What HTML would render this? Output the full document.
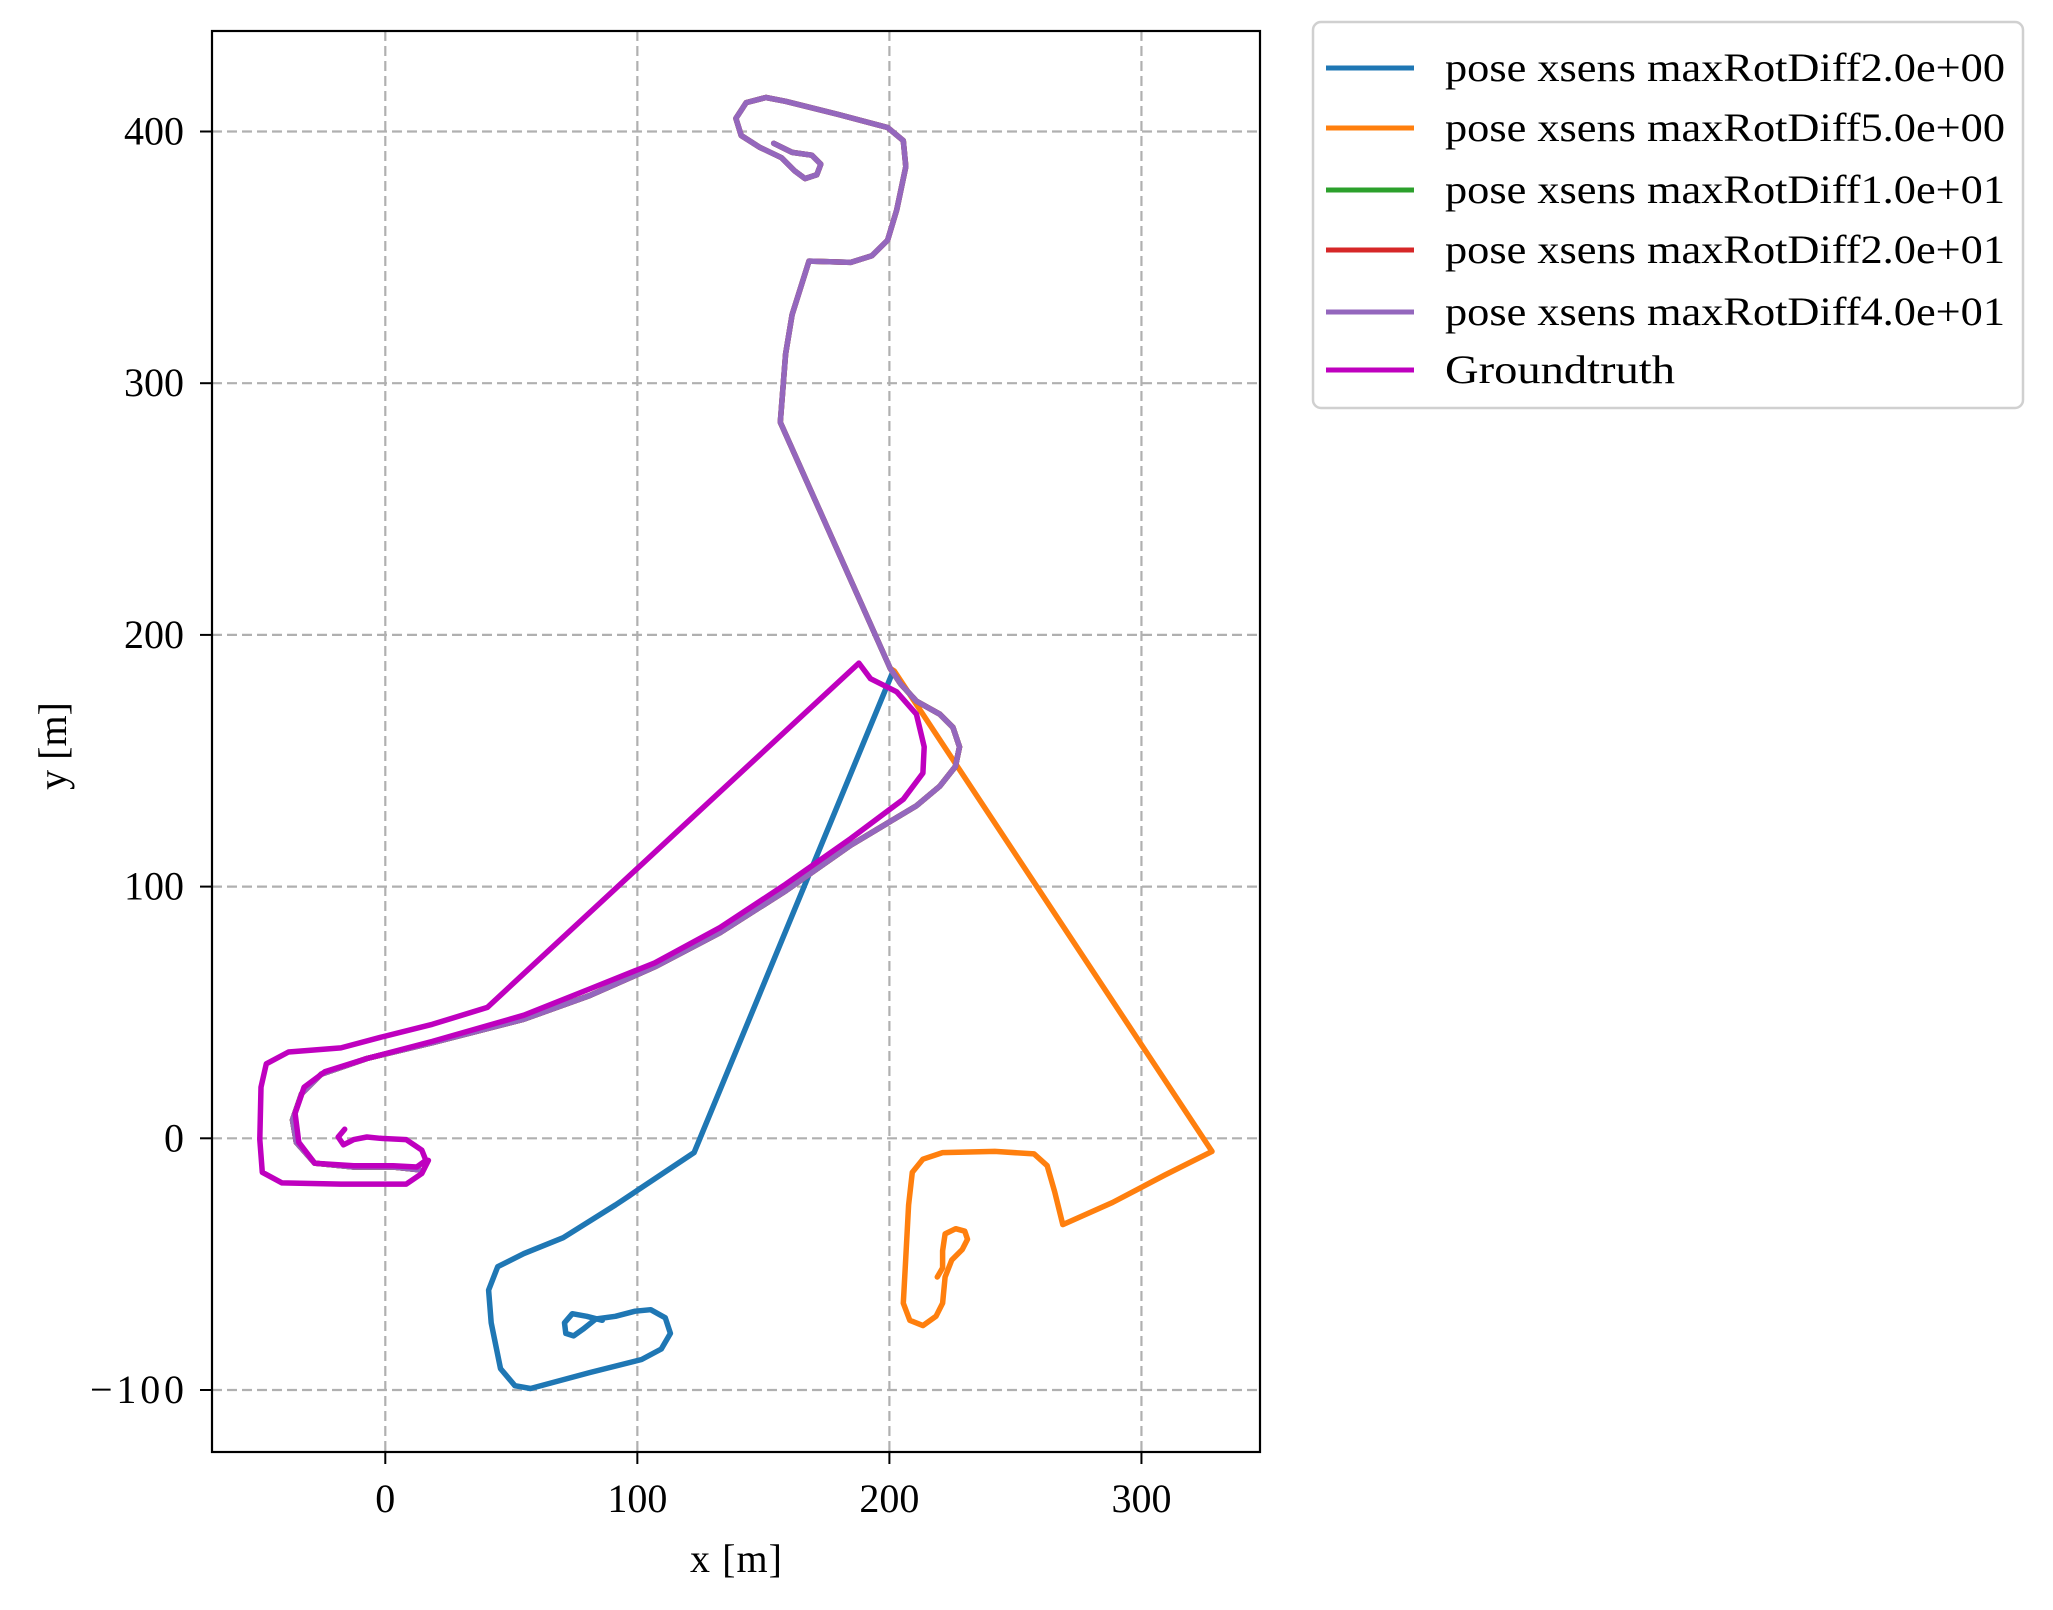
<!DOCTYPE html>
<html><head><meta charset="utf-8"><style>
html,body{margin:0;padding:0;background:#fff;}
svg{display:block;font-family:"Liberation Serif",serif;}
</style></head><body>
<svg id="chart" width="2053" height="1610" viewBox="0 0 2053 1610">
<rect width="2053" height="1610" fill="#fff"/>
<g id="grid"></g>
<g id="series"></g>
<rect x="212" y="31" width="1048" height="1421" fill="none" stroke="#000" stroke-width="2.2"/>
<g id="ticks"></g>
<text x="736" y="1572" font-size="40" text-anchor="middle" textLength="92">x [m]</text>
<text x="0" y="0" font-size="40" text-anchor="middle" transform="translate(66,746) rotate(-90)">y [m]</text>
<g id="legend"></g>
</svg>
<script>
const xTicks = [0, 100, 200, 300];
const yTicks = [-100, 0, 100, 200, 300, 400];
const yTickLabels = ["\u2212100", "0", "100", "200", "300", "400"];
const seriesNames = ["pose xsens maxRotDiff2.0e+00","pose xsens maxRotDiff5.0e+00","pose xsens maxRotDiff1.0e+01","pose xsens maxRotDiff2.0e+01","pose xsens maxRotDiff4.0e+01","Groundtruth"];
const seriesColors = ["#1f77b4","#ff7f0e","#2ca02c","#d62728","#9467bd","#bf00bf"];

const sharedX = [13.5,3.1,-12.5,-28,-35.3,-36.8,-33.2,-25.4,-7.3,18.7,55,81,106.9,132.8,158.8,184.7,210.7,220,226.2,227.8,225.2,220,210.7,204.5,200.3];
const sharedY = [-12.5,-11.4,-11.4,-9.9,-1.6,7.3,17.7,25.5,31.7,38,47.3,56.7,68.1,81.7,98.3,116.5,132.1,139.9,147.7,155.5,163.3,168.5,173.7,180.5,186.7];
const upperX = [156.7,158.8,161.4,168.1,184.7,193,199.3,202.9,206.5,205.5,199.3,179.6,158.8,151,143.2,139.1,141.2,148.4,157.2,162.4,166.5,171.2,172.8,169.2,161.4,154.1];
const upperY = [284.5,311.6,327.2,348.5,348,350.6,356.8,368.8,386,396.4,401.6,406.8,412,413.5,411.5,405.2,398.4,393.8,389.6,384.4,381.3,382.8,387,390.6,391.7,395.3];
const blueX = [201.3,122.5,91.3,70.6,55,44.6,41,42,45.7,51.4,57.6,81,101.7,109.5,113.1,111.1,105.3,99.1,91.3,83.5,78.4,74.7,71.6,71.1,74.2,79.9,86.1];
const blueY = [185.2,-5.7,-26.5,-39.5,-45.8,-51,-60.3,-73.3,-91.5,-98.3,-99.4,-93.1,-87.9,-83.7,-77.5,-71.3,-68.1,-68.7,-70.7,-71.8,-75.9,-78.5,-77.5,-73.3,-69.7,-70.7,-72.3];
const orangeX = [201.9,328,309.3,288.5,268.8,265.6,262.6,257.4,241.8,221.1,213.3,209.1,207.6,206.5,205.5,208.1,213.3,218.5,221.1,222.1,224.7,228.9,231,229.9,226.3,222.1,221.1,221.1,219];
const orangeY = [185.7,-5.2,-14.6,-25.5,-34.3,-21.3,-10.9,-6.2,-5.2,-5.7,-8.3,-13.5,-26.5,-47.3,-65.5,-72.3,-74.4,-70.7,-65.5,-55.1,-48.4,-44.2,-40.1,-36.9,-35.9,-38,-44.7,-51.5,-55.1];
const gtX = [-16.1,-18.7,-16.6,-12.5,-7.3,-2.1,8.3,14.5,16.1,12.5,3.1,-12.5,-28,-34.3,-35.8,-32.2,-23.9,-7.3,18.7,55,81,106.9,132.8,158.8,184.7,205.5,213.3,213.8,210.7,202.9,192.5,187.9,40.5,18.7,-2.1,-17.6,-38.4,-47.2,-49.3,-49.8,-48.8,-41,-17.6,8.3,14.5,17.1];
const gtY = [3.6,0.5,-2.6,-0.5,0.5,0,-0.5,-4.7,-8.8,-11.4,-10.9,-10.9,-9.9,-1.6,9.9,20.3,26.5,31.7,38.5,48.9,59.3,69.7,83.7,100.9,119.1,134.7,145.1,155.5,168.5,177.4,182.6,188.8,52,45.3,40.1,35.9,34.3,29.6,20.3,-0.5,-13.5,-17.7,-18.2,-18.2,-14,-8.8];

const L=212,R=1260,T=31,B=1452;
function sx(v){return 385.3 + v*2.5205;}
function sy(v){return 1138.3 - v*2.517;}
const NS="http://www.w3.org/2000/svg";
function mk(tag,attrs,parent){const e=document.createElementNS(NS,tag);for(const k in attrs)e.setAttribute(k,attrs[k]);parent.appendChild(e);return e;}
const grid=document.getElementById('grid'), ticks=document.getElementById('ticks'), sg=document.getElementById('series'), lg=document.getElementById('legend');

xTicks.forEach(v=>{
  const g=mk('line',{x1:sx(v),x2:sx(v),y1:T,y2:B,stroke:'#b0b0b0','stroke-width':2.2,'stroke-dasharray':'10,5'},grid);
  
  
  const t=mk('line',{x1:sx(v),x2:sx(v),y1:B,y2:B+12,stroke:'#000','stroke-width':2},ticks);
  
  
  const l=mk('text',{x:sx(v),y:1512,'font-size':40,'text-anchor':'middle'},ticks);
  l.textContent=String(v);
  
  
});
yTicks.forEach((v,i)=>{
  const g=mk('line',{x1:L,x2:R,y1:sy(v),y2:sy(v),stroke:'#b0b0b0','stroke-width':2.2,'stroke-dasharray':'10,5'},grid);
  
  
  const t=mk('line',{x1:L-12,x2:L,y1:sy(v),y2:sy(v),stroke:'#000','stroke-width':2},ticks);
  
  
  const l=mk('text',{x:184,y:sy(v)+13,'font-size':40,'text-anchor':'end'},ticks);
  l.textContent=yTickLabels[i];
  if(v<0) l.setAttribute('textLength','94');
  
  
});

function pts(xs,ys){return xs.map((x,i)=>sx(x).toFixed(1)+','+sy(ys[i]).toFixed(1)).join(' ');}
const seriesData=[
  [sharedX.concat(blueX), sharedY.concat(blueY)],
  [sharedX.concat(orangeX), sharedY.concat(orangeY)],
  [sharedX.concat(upperX), sharedY.concat(upperY)],
  [sharedX.concat(upperX), sharedY.concat(upperY)],
  [sharedX.concat(upperX), sharedY.concat(upperY)],
  [gtX, gtY]
];
const seriesKeys=['series-maxrotdiff-2','series-maxrotdiff-5','series-maxrotdiff-10','series-maxrotdiff-20','series-maxrotdiff-40','series-groundtruth'];
seriesData.forEach((d,i)=>{
  const p=mk('polyline',{points:pts(d[0],d[1]),fill:'none',stroke:seriesColors[i],'stroke-width':5.5,'stroke-linejoin':'round','stroke-linecap':'round'},sg);
  
  
});

const box=mk('rect',{x:1313,y:22,width:710,height:386,rx:8,fill:'#fff',stroke:'#d0d0d0','stroke-width':2.5},lg);


const ly=[68,128,190,250,312,370];
seriesNames.forEach((n,i)=>{
  const ln=mk('line',{x1:1326,x2:1414,y1:ly[i],y2:ly[i],stroke:seriesColors[i],'stroke-width':5},lg);
  
  
  const t=mk('text',{x:1445,y:ly[i]+13,'font-size':40,textLength:(i===5?230:560),lengthAdjust:'spacingAndGlyphs'},lg);
  t.textContent=n;
  
  
});
</script>
</body></html>
